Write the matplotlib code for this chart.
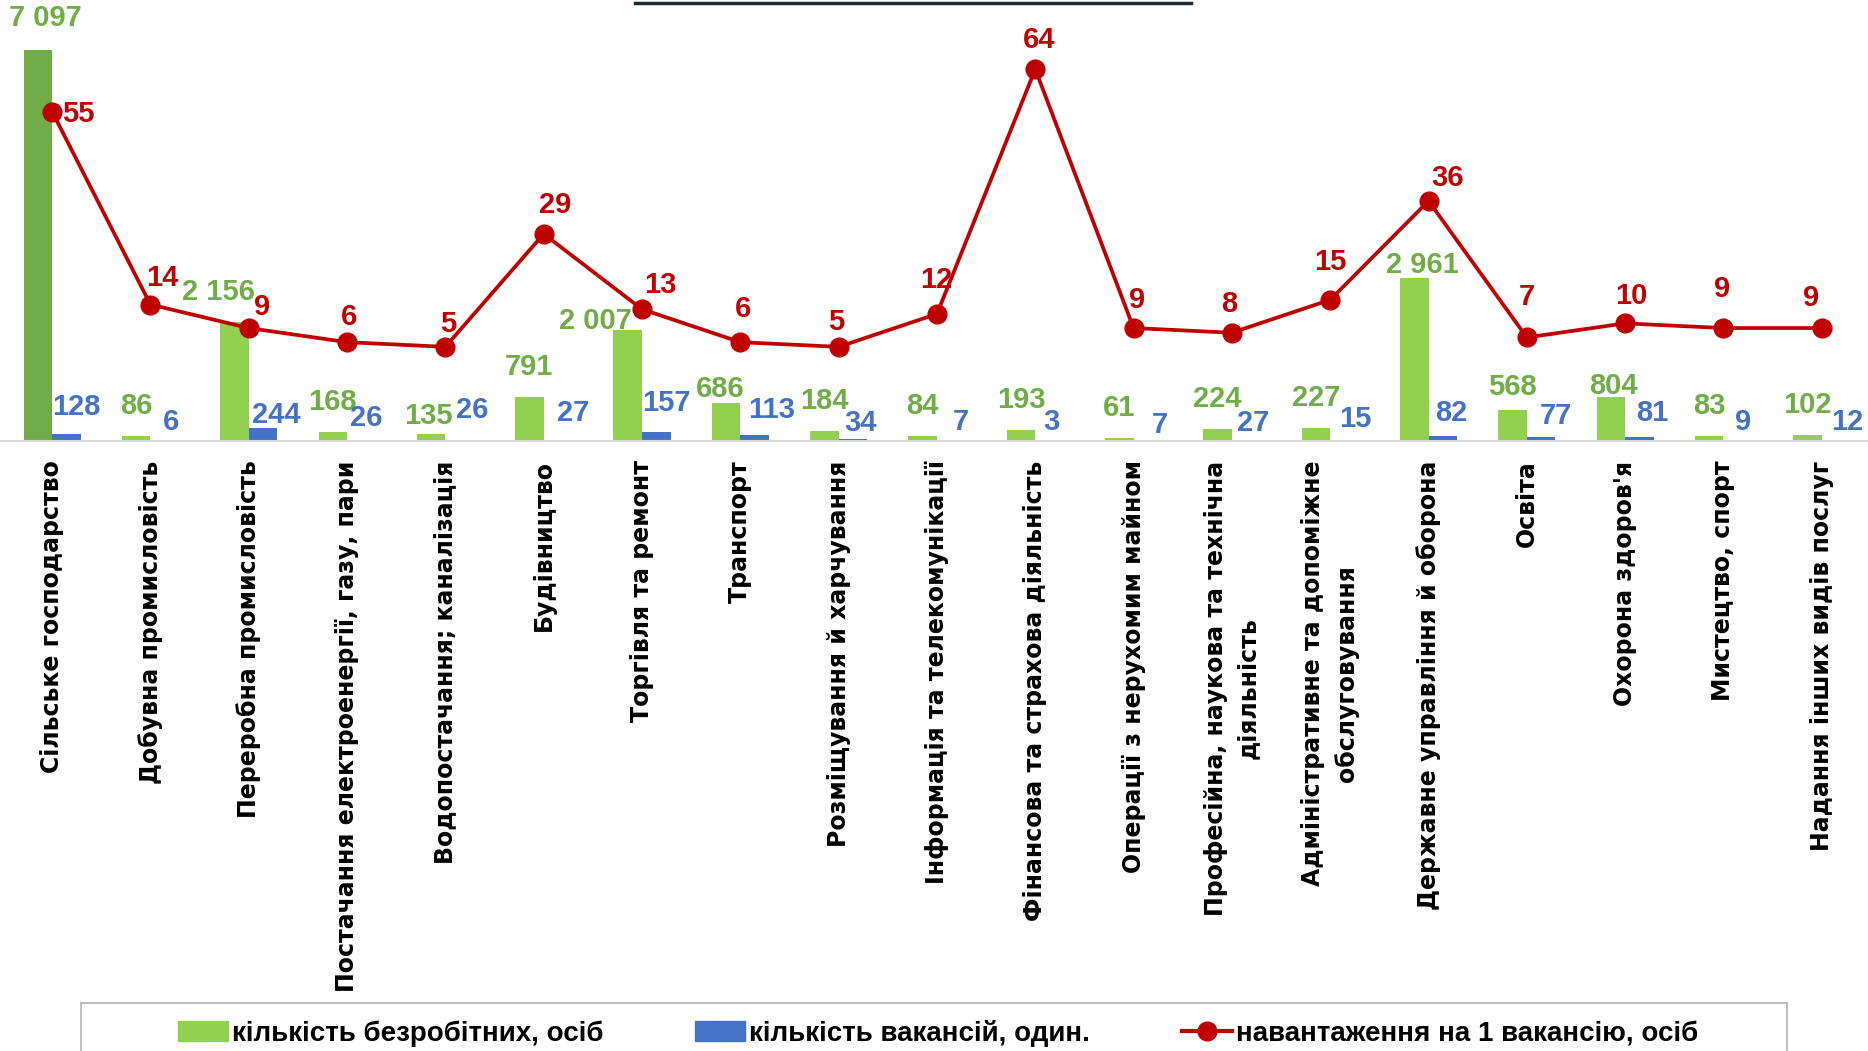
import numpy as np
import matplotlib
matplotlib.use('Agg')
import matplotlib.pyplot as plt
from matplotlib.patches import Patch, Rectangle
from matplotlib.lines import Line2D

categories = [
    'Сільське господарство',
    'Добувна промисловість',
    'Переробна промисловість',
    'Постачання електроенергії, газу, пари',
    'Водопостачання; каналізація',
    'Будівництво',
    'Торгівля та ремонт',
    'Транспорт',
    'Розміщування й харчування',
    'Інформація та телекомунікації',
    'Фінансова та страхова діяльність',
    'Операції з нерухомим майном',
    'Професійна, наукова та технічна\nдіяльність',
    'Адміністративне та допоміжне\nобслуговування',
    'Державне управління й оборона',
    'Освіта',
    "Охорона здоров'я",
    'Мистецтво, спорт',
    'Надання інших видів послуг',
]
unemployed = [7097, 86, 2156, 168, 135, 791, 2007, 686, 184, 84, 193, 61, 224, 227, 2961, 568, 804, 83, 102]
vacancies = [128, 6, 244, 26, 26, 27, 157, 113, 34, 7, 3, 7, 27, 15, 82, 77, 81, 9, 12]
load_per_vacancy = [55, 14, 9, 6, 5, 29, 13, 6, 5, 12, 64, 9, 8, 15, 36, 7, 10, 9, 9]

legend_labels = ['кількість безробітних, осіб', 'кількість вакансій, один.',
                 'навантаження на 1 вакансію, осіб']

GREEN = '#92D050'
GREEN_DARK = '#70AD47'
BLUE = '#4472C4'
RED = '#C00000'
NUM_FONT = ['Liberation Sans', 'DejaVu Sans']

# label offsets in pixels
green_off = {0: (8, 32), 2: (-16, 30), 4: (-3, 18), 6: (-32, 9), 7: (-6, 14),
             14: (8, 13), 15: (0, 23), 16: (3, 11)}
blue_off = [(10, 34), (6, 19), (13, 26), (5, 23), (13, 31), (15, 28), (10, 38),
            (17, 31), (8, 18), (10, 19), (2, 19), (12, 16), (7, 18), (11, 22),
            (8, 28), (15, 25), (13, 28), (5, 19), (11, 19)]
red_off = [(26, -2), (12, 27), (13, 21), (2, 25), (3, 23), (11, 29), (18, 24),
           (3, 33), (-2, 25), (-1, 34), (4, 29), (3, 28), (-3, 29), (0, 38),
           (19, 23), (0, 40), (6, 27), (-1, 39), (-11, 30)]


def fmt(v):
    return f'{v:,}'.replace(',', ' ')


fig = plt.figure(figsize=(18.68, 10.51), dpi=100)
ax = fig.add_axes([0, 1 - 441 / 1051, 1, 441 / 1051])
x = np.arange(len(categories))
w = 0.29
colors = [GREEN_DARK] + [GREEN] * (len(categories) - 1)
ax.bar(x - w / 2, unemployed, w, color=colors)
ax.bar(x + w / 2, vacancies, w, color=BLUE)
ax.set_xlim(-0.53, 18.47)
ax.set_ylim(0, 8000)

for i, v in enumerate(unemployed):
    dx, dy = green_off.get(i, (0, 30))
    ax.annotate(fmt(v), (x[i] - w / 2, v), xytext=(dx, dy), textcoords='offset pixels',
                ha='center', va='center', color=GREEN_DARK, fontsize=21,
                fontweight='bold', family=NUM_FONT)
for i, v in enumerate(vacancies):
    dx, dy = blue_off[i]
    ax.annotate(fmt(v), (x[i] + w / 2, 0), xytext=(dx, dy), textcoords='offset pixels',
                ha='center', va='center', color=BLUE, fontsize=21,
                fontweight='bold', family=NUM_FONT)

ax.set_xticks(x)
ax.set_xticklabels(categories, rotation=90, fontsize=17, fontweight='bold',
                   family='DejaVu Sans', va='top', ha='center', linespacing=1.45)
ax.tick_params(axis='x', length=0, pad=14)
ax.yaxis.set_visible(False)
for s in ['top', 'left', 'right']:
    ax.spines[s].set_visible(False)
ax.spines['bottom'].set_color('#D9D9D9')
ax.spines['bottom'].set_linewidth(1.5)

ax2 = ax.twinx()
ax2.plot(x, load_per_vacancy, color=RED, lw=2.7, marker='o', ms=13.5)
ax2.set_ylim(-15, 78.7)
ax2.yaxis.set_visible(False)
for s in ax2.spines.values():
    s.set_visible(False)
for i, v in enumerate(load_per_vacancy):
    dx, dy = red_off[i]
    ax2.annotate(str(v), (x[i], v), xytext=(dx, dy), textcoords='offset pixels',
                 ha='center', va='center', color=RED, fontsize=21,
                 fontweight='bold', family=NUM_FONT)

# title underline (title itself is cut off at the top)
fig.add_artist(Line2D([635 / 1868, 1191 / 1868], [0.9975, 0.9975],
                      transform=fig.transFigure, color='#1F2A36', lw=2.5))

# legend frame, its bottom runs off the picture
fig.add_artist(Rectangle((81 / 1868, -0.05), 1706 / 1868, 0.05 + 48 / 1051,
                         transform=fig.transFigure, fill=False,
                         edgecolor='#BFBFBF', lw=1.5))
handles = [Patch(color=GREEN), Patch(color=BLUE),
           Line2D([0], [0], color=RED, lw=3, marker='o', ms=13.5)]
fig.legend(handles, legend_labels, loc='center', bbox_to_anchor=(0.502, 0.017),
           ncol=3, frameon=False, handlelength=1.8, handleheight=0.7,
           handletextpad=0.15, columnspacing=3.3,
           prop={'family': NUM_FONT, 'weight': 'bold', 'size': 20})

fig.savefig('out.png', dpi=100, facecolor='white')
